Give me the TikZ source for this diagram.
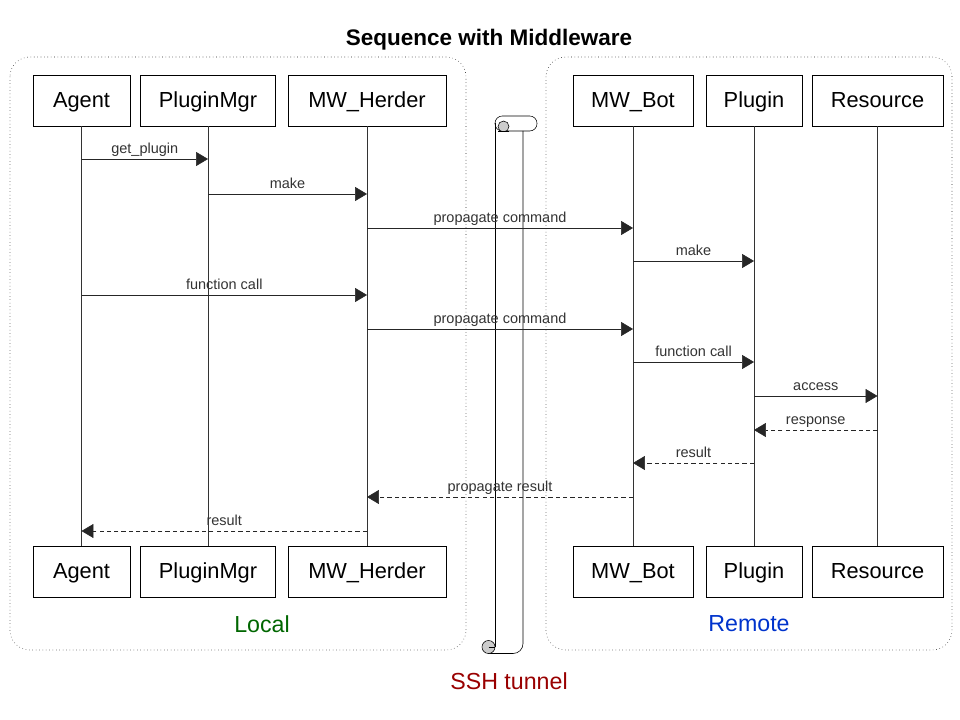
\documentclass[tikz,border=0pt]{standalone}
\usepackage{fontspec}
\setmainfont{Liberation Sans}
\usetikzlibrary{arrows.meta,positioning}
\newlength\pxu
\setlength\pxu{0.025cm}
\definecolor{localgreen}{RGB}{0,102,0}
\definecolor{remoteblue}{RGB}{0,51,204}
\definecolor{sshred}{RGB}{153,0,0}

\begin{document}
\begin{tikzpicture}[x=0.025cm,y=-0.025cm]
\tikzstyle{actor}=[draw=black, thin, minimum height=51\pxu, inner sep=0pt, text height=13pt, text depth=2.4pt, font=\fontsize{15.5}{18}\selectfont]
\tikzstyle{life}=[draw=black!80, thin]
\tikzstyle{call}=[draw=black!85, thin, -{Triangle[length=8.5pt,width=10pt]}]
\tikzstyle{reply}=[call, dash pattern=on 3pt off 2.2pt]
\tikzstyle{msglabel}=[above=3.5pt, inner sep=0pt, text depth=0pt, text=black!80, font=\fontsize{10.3}{12}\selectfont]
\tikzstyle{group}=[draw=black!85, dotted, thin, rounded corners=14pt]
\useasboundingbox (0,0) rectangle (960,720);

% frames
\draw[group] (10,57) rectangle (466,650);
\draw[group] (546,57) rectangle (952,650);
\node[font=\fontsize{16}{19}\selectfont\bfseries] (title) at (489,40) {Sequence with Middleware};
\node[text=localgreen, font=\fontsize{16.5}{19}\selectfont] (local) at (262,624) {Local};
\node[text=remoteblue, font=\fontsize{16.5}{19}\selectfont] (remote) at (749,624) {Remote};
\node[text=sshred, font=\fontsize{16.5}{19}\selectfont] (ssh) at (509,681) {SSH tunnel};

% ssh scroll
\draw[thin] (495,123) -- (495,647);
\draw[thin, rounded corners=7pt] (523,131) -- (523,653.5) -- (488,653.5);
\draw[thin, rounded corners=7.3\pxu] (495,116) rectangle (537,131);
\begin{scope}
  \clip (490,116) rectangle (540,131);
  \filldraw[thin, fill=black!20] (503.5,126.5) circle (5.5);
\end{scope}
\draw[thin] (498,131) -- (509,131);
\filldraw[thin, fill=black!20] (488.5,647) circle (6.5);
\draw[thin] (488.5,647) -- (495,647);

% actors and lifelines
\foreach \n/\x/\w/\t in {agent/81.5/97/Agent, pmgr/208/135/PluginMgr, herder/367/158/MW\_Herder,
                         bot/633/120/MW\_Bot, plugin/754/96/Plugin, res/877.5/131/Resource}
  {
   \node[actor, minimum width=\w\pxu] (top-\n) at (\x,100.5) {\t};
   \node[actor, minimum width=\w\pxu] (bot-\n) at (\x,571.5) {\t};
   \draw[life] (top-\n) -- (bot-\n);
  }

% messages
\foreach \y/\a/\b/\t/\s in {159/agent/pmgr/get\_plugin/call, 194/pmgr/herder/make/call,
                            228/herder/bot/propagate command/call, 261/bot/plugin/make/call,
                            295/agent/herder/function call/call, 329/herder/bot/propagate command/call,
                            362/bot/plugin/function call/call, 396/plugin/res/access/call,
                            430/res/plugin/response/reply, 463/plugin/bot/result/reply,
                            497/bot/herder/propagate result/reply, 531/herder/agent/result/reply}
  \draw[\s] (top-\a |- 0,\y) -- node[msglabel] {\t} (top-\b |- 0,\y);
\end{tikzpicture}
\end{document}
